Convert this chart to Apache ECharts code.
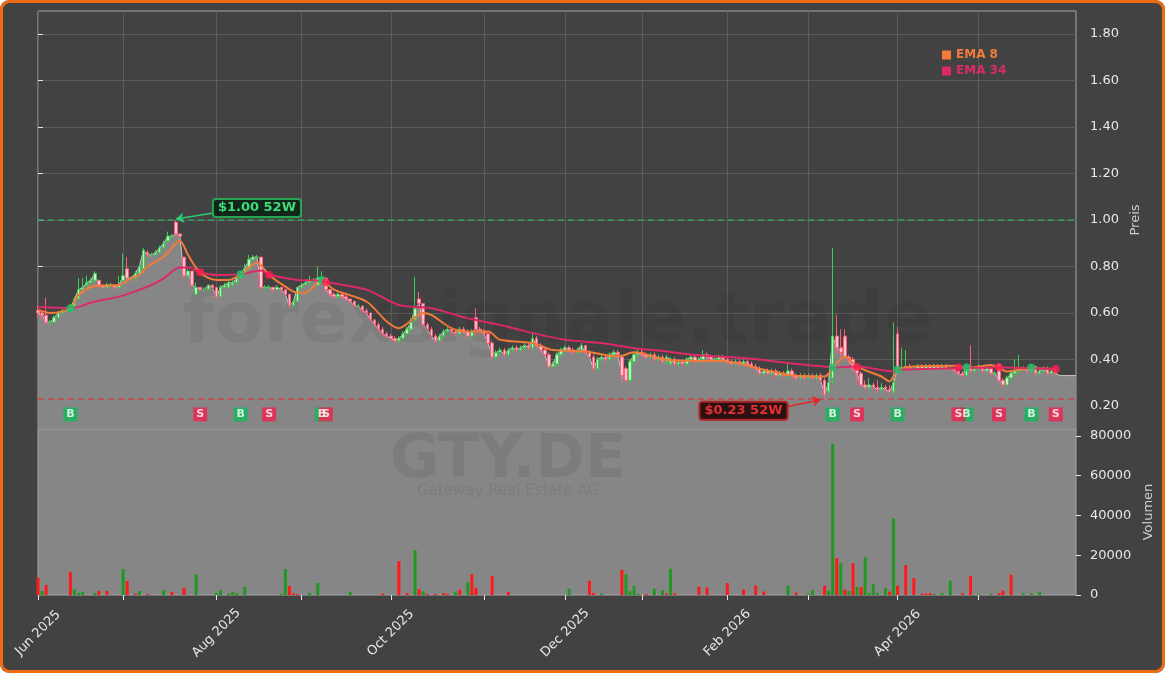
<!DOCTYPE html>
<html>
<head>
<meta charset="utf-8">
<script src="https://cdn.jsdelivr.net/npm/echarts@6.0.0/dist/echarts.min.js"></script>
<style>
html, body { margin: 0; padding: 0; background: #ffffff; }
#chart { width: 1165px; height: 673px; border-radius: 9px; overflow: hidden; }
</style>
</head>
<body>
<div id="chart"></div>
<script>
// trading calendar (Xetra)
var startDay = '2025-06-02';
var holidays = ['2025-12-24', '2025-12-25', '2025-12-26', '2025-12-31', '2026-01-01', '2026-04-03', '2026-04-06', '2026-05-01'];
var slotCount = 257;
var monthNames = ['Jan', 'Feb', 'Mar', 'Apr', 'May', 'Jun', 'Jul', 'Aug', 'Sep', 'Oct', 'Nov', 'Dec'];

// daily candles: [open, close, low, high]
var candles = [
    [0.61,0.60,0.58,0.63],[0.60,0.59,0.57,0.61],[0.59,0.56,0.55,0.665],[0.56,0.56,0.55,0.57],[0.56,0.58,0.56,0.59],
    [0.58,0.60,0.58,0.61],[0.60,0.61,0.60,0.62],[0.61,0.61,0.60,0.62],[0.61,0.62,0.61,0.64],[0.63,0.66,0.63,0.67],
    [0.66,0.70,0.66,0.75],[0.70,0.71,0.70,0.75],[0.72,0.73,0.71,0.76],[0.73,0.74,0.72,0.75],[0.74,0.77,0.73,0.78],
    [0.74,0.72,0.71,0.74],[0.72,0.71,0.70,0.72],[0.71,0.72,0.70,0.73],[0.72,0.72,0.71,0.73],[0.72,0.71,0.70,0.72],
    [0.71,0.72,0.70,0.76],[0.74,0.76,0.73,0.855],[0.79,0.75,0.74,0.84],[0.75,0.75,0.74,0.76],[0.75,0.77,0.74,0.78],
    [0.77,0.80,0.77,0.81],[0.79,0.87,0.78,0.88],[0.86,0.85,0.84,0.87],[0.85,0.85,0.84,0.86],[0.85,0.86,0.85,0.87],
    [0.86,0.88,0.86,0.89],[0.88,0.90,0.88,0.91],[0.91,0.93,0.90,0.95],[0.93,0.93,0.92,0.94],[0.99,0.94,0.93,1.00],
    [0.94,0.93,0.92,0.94],[0.84,0.76,0.75,0.84],[0.76,0.78,0.75,0.79],[0.78,0.72,0.71,0.78],[0.68,0.71,0.68,0.73],
    [0.71,0.70,0.69,0.71],[0.70,0.70,0.69,0.71],[0.70,0.72,0.70,0.72],[0.72,0.71,0.70,0.72],[0.71,0.67,0.66,0.71],
    [0.67,0.71,0.67,0.72],[0.71,0.72,0.71,0.73],[0.71,0.73,0.71,0.74],[0.72,0.73,0.71,0.74],[0.73,0.75,0.72,0.76],
    [0.75,0.77,0.75,0.78],[0.77,0.79,0.77,0.81],[0.79,0.83,0.79,0.85],[0.83,0.84,0.83,0.85],[0.84,0.84,0.83,0.85],
    [0.84,0.71,0.70,0.84],[0.71,0.71,0.70,0.72],[0.71,0.71,0.70,0.72],[0.71,0.70,0.69,0.71],[0.70,0.71,0.70,0.72],
    [0.71,0.70,0.69,0.71],[0.70,0.68,0.67,0.70],[0.68,0.63,0.62,0.68],[0.63,0.65,0.62,0.66],[0.65,0.71,0.65,0.71],
    [0.71,0.72,0.71,0.73],[0.72,0.73,0.72,0.74],[0.73,0.74,0.72,0.76],[0.74,0.74,0.73,0.75],[0.72,0.75,0.72,0.80],
    [0.74,0.75,0.73,0.78],[0.75,0.70,0.69,0.75],[0.70,0.68,0.67,0.70],[0.68,0.67,0.66,0.69],[0.67,0.68,0.66,0.69],
    [0.68,0.67,0.66,0.68],[0.67,0.66,0.65,0.68],[0.66,0.65,0.64,0.66],[0.65,0.63,0.62,0.65],[0.63,0.63,0.62,0.64],
    [0.63,0.61,0.60,0.63],[0.61,0.60,0.59,0.62],[0.60,0.57,0.56,0.60],[0.57,0.55,0.54,0.57],[0.55,0.53,0.52,0.56],
    [0.53,0.51,0.50,0.54],[0.51,0.50,0.49,0.52],[0.50,0.49,0.48,0.51],[0.49,0.48,0.47,0.50],[0.48,0.49,0.47,0.50],
    [0.49,0.51,0.48,0.52],[0.51,0.53,0.50,0.54],[0.53,0.56,0.52,0.58],[0.57,0.62,0.56,0.755],[0.66,0.64,0.58,0.69],
    [0.64,0.55,0.54,0.64],[0.55,0.53,0.52,0.56],[0.53,0.50,0.49,0.54],[0.50,0.48,0.47,0.51],[0.48,0.50,0.48,0.51],
    [0.50,0.52,0.49,0.53],[0.52,0.53,0.51,0.54],[0.53,0.52,0.51,0.54],[0.52,0.51,0.50,0.53],[0.51,0.53,0.50,0.54],
    [0.53,0.52,0.51,0.54],[0.52,0.50,0.49,0.53],[0.50,0.52,0.49,0.53],[0.58,0.53,0.50,0.62],[0.53,0.52,0.51,0.54],
    [0.52,0.51,0.50,0.53],[0.51,0.47,0.46,0.52],[0.47,0.41,0.40,0.48],[0.41,0.43,0.40,0.44],[0.43,0.44,0.42,0.45],
    [0.44,0.42,0.41,0.45],[0.42,0.44,0.41,0.45],[0.44,0.45,0.43,0.46],[0.45,0.44,0.43,0.46],[0.44,0.45,0.43,0.46],
    [0.45,0.46,0.44,0.47],[0.46,0.45,0.44,0.47],[0.45,0.49,0.44,0.51],[0.49,0.46,0.45,0.50],[0.46,0.44,0.43,0.47],
    [0.44,0.42,0.41,0.45],[0.42,0.37,0.36,0.43],[0.37,0.38,0.36,0.39],[0.38,0.42,0.37,0.43],[0.42,0.44,0.41,0.45],
    [0.44,0.45,0.43,0.46],[0.45,0.44,0.43,0.46],[0.44,0.43,0.42,0.45],[0.43,0.44,0.42,0.45],[0.44,0.46,0.43,0.47],
    [0.46,0.43,0.42,0.46],[0.43,0.41,0.40,0.44],[0.41,0.36,0.35,0.42],[0.36,0.40,0.35,0.41],[0.40,0.41,0.39,0.42],
    [0.41,0.40,0.39,0.42],[0.40,0.42,0.39,0.43],[0.42,0.43,0.41,0.44],[0.43,0.42,0.41,0.44],[0.41,0.33,0.30,0.42],
    [0.36,0.31,0.30,0.37],[0.31,0.39,0.30,0.40],[0.39,0.42,0.38,0.43],[0.42,0.43,0.41,0.44],[0.43,0.42,0.41,0.44],
    [0.42,0.41,0.40,0.43],[0.41,0.42,0.40,0.43],[0.42,0.40,0.39,0.43],[0.40,0.41,0.39,0.42],[0.41,0.39,0.38,0.42],
    [0.39,0.41,0.38,0.42],[0.38,0.40,0.37,0.41],[0.40,0.38,0.37,0.41],[0.38,0.39,0.37,0.40],[0.39,0.38,0.37,0.40],
    [0.38,0.40,0.37,0.41],[0.40,0.41,0.39,0.42],[0.41,0.39,0.38,0.42],[0.39,0.40,0.38,0.41],[0.40,0.42,0.39,0.44],
    [0.42,0.41,0.40,0.43],[0.41,0.40,0.39,0.42],[0.40,0.40,0.39,0.41],[0.40,0.41,0.39,0.42],[0.41,0.40,0.39,0.42],
    [0.40,0.39,0.38,0.41],[0.39,0.38,0.37,0.40],[0.38,0.39,0.37,0.40],[0.39,0.38,0.37,0.40],[0.38,0.39,0.37,0.40],
    [0.39,0.38,0.37,0.40],[0.38,0.37,0.36,0.39],[0.37,0.36,0.35,0.38],[0.36,0.34,0.33,0.37],[0.34,0.35,0.33,0.36],
    [0.35,0.34,0.33,0.36],[0.34,0.35,0.33,0.36],[0.35,0.33,0.32,0.36],[0.33,0.34,0.32,0.35],[0.34,0.33,0.32,0.35],
    [0.33,0.35,0.32,0.38],[0.35,0.33,0.32,0.36],[0.33,0.32,0.31,0.34],[0.32,0.33,0.31,0.34],[0.33,0.32,0.31,0.34],
    [0.32,0.33,0.31,0.34],[0.33,0.32,0.31,0.34],[0.32,0.33,0.31,0.34],[0.33,0.31,0.30,0.34],[0.31,0.25,0.23,0.32],
    [0.26,0.30,0.25,0.33],[0.32,0.50,0.29,0.88],[0.50,0.45,0.42,0.59],[0.45,0.43,0.41,0.53],[0.50,0.41,0.39,0.53],
    [0.41,0.40,0.38,0.42],[0.40,0.36,0.35,0.41],[0.36,0.34,0.30,0.37],[0.34,0.29,0.28,0.35],[0.29,0.28,0.27,0.31],
    [0.28,0.29,0.27,0.32],[0.29,0.28,0.27,0.30],[0.28,0.27,0.26,0.31],[0.27,0.28,0.26,0.30],[0.28,0.27,0.26,0.29],
    [0.27,0.26,0.25,0.29],[0.26,0.30,0.25,0.56],[0.51,0.36,0.35,0.54],[0.36,0.36,0.35,0.45],[0.36,0.37,0.35,0.44],
    [0.37,0.36,0.35,0.38],[0.36,0.36,0.35,0.37],[0.36,0.37,0.35,0.38],[0.37,0.36,0.35,0.38],[0.36,0.37,0.35,0.38],
    [0.37,0.36,0.35,0.38],[0.36,0.37,0.35,0.38],[0.37,0.36,0.35,0.38],[0.36,0.37,0.35,0.38],[0.37,0.36,0.35,0.38],
    [0.36,0.36,0.35,0.37],[0.36,0.35,0.34,0.37],[0.35,0.34,0.33,0.36],[0.34,0.33,0.32,0.35],[0.33,0.37,0.33,0.38],
    [0.37,0.35,0.34,0.46],[0.35,0.36,0.34,0.37],[0.36,0.37,0.35,0.38],[0.37,0.35,0.34,0.37],[0.35,0.36,0.34,0.37],
    [0.36,0.34,0.33,0.37],[0.34,0.34,0.33,0.35],[0.38,0.31,0.30,0.38],[0.31,0.29,0.28,0.32],[0.29,0.32,0.29,0.33],
    [0.32,0.34,0.31,0.35],[0.34,0.35,0.33,0.40],[0.35,0.36,0.34,0.42],[0.36,0.36,0.35,0.37],[0.36,0.35,0.34,0.37],
    [0.35,0.37,0.34,0.38],[0.37,0.34,0.33,0.37],[0.34,0.35,0.33,0.36],[0.35,0.36,0.34,0.37],[0.36,0.34,0.33,0.37],
    [0.34,0.35,0.33,0.36],[0.35,0.34,0.33,0.36]
];
// price fill keeps going after the last candle
var fillTail = [0.33, 0.33, 0.33, 0.33, 0.33];

// EMA curves: [day index, value]
var ema8Points = [
    [0,0.613],[3,0.60],[8,0.62],[10,0.677],[14,0.716],[20,0.72],[23,0.749],[25,0.763],[27,0.80],[31,0.842],
    [35,0.91],[37,0.85],[40,0.773],[44,0.742],[47,0.742],[50,0.766],[54,0.816],[57,0.763],[61,0.713],[64,0.687],
    [66,0.687],[70,0.742],[73,0.70],[81,0.649],[86,0.563],[89,0.534],[95,0.60],[97,0.591],[102,0.534],[106,0.52],
    [111,0.52],[114,0.484],[122,0.47],[127,0.44],[135,0.434],[143,0.412],[147,0.43],[155,0.398],[163,0.393],
    [170,0.391],[179,0.355],[187,0.329],[194,0.326],[196,0.362],[199,0.412],[202,0.369],[208,0.326],[210,0.305],
    [212,0.355],[216,0.369],[226,0.372],[229,0.362],[235,0.376],[239,0.348],[245,0.362],[251,0.358]
];
var ema34Points = [
    [0,0.625],[8,0.62],[14,0.649],[20,0.67],[27,0.713],[31,0.749],[35,0.795],[37,0.795],[40,0.775],[44,0.763],
    [50,0.766],[55,0.782],[57,0.765],[64,0.742],[70,0.739],[71,0.733],[81,0.70],[89,0.634],[97,0.62],[106,0.577],
    [114,0.548],[122,0.513],[130,0.484],[139,0.47],[147,0.448],[155,0.434],[161,0.42],[175,0.405],[185,0.384],
    [194,0.369],[196,0.365],[202,0.369],[211,0.348],[212,0.355],[227,0.362],[237,0.365],[251,0.358]
];

// EMA cross signals
var buyIdx = [8, 50, 70, 196, 212, 229, 245];
var buyAt = [0.62, 0.766, 0.742, 0.365, 0.355, 0.365, 0.365];
var sellIdx = [40, 57, 71, 202, 227, 237, 251];
var sellAt = [0.775, 0.763, 0.732, 0.367, 0.365, 0.365, 0.358];
var signalLevel = 0.163;

// 52 week extremes
var high52 = 1.00, high52Idx = 34;
var low52 = 0.23, low52Idx = 194;

// volume: [day index, shares, direction]
var volumes = [
    [0,8700,-1],[1,2000,1],[2,5000,-1],[8,11500,-1],[9,2800,1],[10,1000,1],[11,1500,1],[14,1000,1],[15,2000,-1],
    [17,2000,-1],[21,13000,1],[22,7000,-1],[24,700,-1],[25,2000,1],[27,500,-1],[31,2500,1],[33,1500,-1],[36,3700,-1],
    [39,10500,1],[44,1000,1],[45,2500,1],[47,700,1],[48,1500,1],[49,1000,1],[51,4000,1],[60,500,1],[61,13000,1],
    [62,4500,-1],[63,800,-1],[64,500,-1],[67,1000,1],[69,6000,1],[77,1500,1],[85,700,-1],[89,17000,-1],[91,1000,-1],
    [93,22500,1],[94,3000,-1],[95,1800,1],[96,500,-1],[98,500,-1],[100,1000,-1],[101,600,-1],[103,1700,1],[104,2700,-1],
    [106,6500,1],[107,10500,-1],[108,3700,-1],[112,9500,-1],[116,1500,-1],[131,3200,1],[136,7200,-1],[137,1000,-1],
    [139,700,1],[144,12700,-1],[145,10500,1],[146,1800,1],[147,4500,1],[148,500,1],[150,500,-1],[152,3200,1],
    [154,2500,1],[155,800,-1],[156,13200,1],[157,800,-1],[163,4200,-1],[165,3800,-1],[170,6000,-1],[174,2700,-1],
    [177,4800,-1],[179,1700,-1],[185,4700,1],[187,1200,-1],[190,500,1],[191,2500,1],[194,4700,-1],[195,2200,1],
    [196,76000,1],[197,18500,-1],[198,16000,1],[199,2700,-1],[200,2000,1],[201,16000,-1],[202,4200,1],[203,4000,-1],
    [204,19000,1],[205,1000,1],[206,5500,1],[207,1000,1],[209,3500,1],[210,1700,-1],[211,38500,1],[212,4700,-1],
    [214,15000,-1],[216,8500,-1],[218,600,-1],[219,800,-1],[220,1000,-1],[221,500,1],[223,800,1],[225,7200,1],
    [228,800,-1],[230,9700,-1],[232,400,1],[235,600,1],[237,900,-1],[238,2200,-1],[240,10200,-1],[243,800,1],
    [245,800,1],[247,1700,1]
];

var colEma8 = '#f47a3a';
var colEma34 = '#dc2a68';
var colBuy = '#12b85a';
var colSell = '#f0204e';
var volUp = '#1f9a1f';
var volDown = '#ff1a1a';
var font = 'DejaVu Sans';

function buildDays() {
    var out = [];
    var d = new Date(startDay + 'T00:00:00Z');
    while (out.length < slotCount) {
        var wd = d.getUTCDay();
        var key = d.toISOString().slice(0, 10);
        if (wd !== 0 && wd !== 6 && holidays.indexOf(key) < 0) {
            out.push(key);
        }
        d.setUTCDate(d.getUTCDate() + 1);
    }
    return out;
}
var days = buildDays();

// month marks only where there is data
function isMonthStart(i) {
    if (i >= candles.length) return false;
    return i === 0 || days[i].slice(5, 7) !== days[i - 1].slice(5, 7);
}
function isLabelMonth(i) {
    return isMonthStart(i) && parseInt(days[i].slice(5, 7), 10) % 2 === 0;
}

var closeLine = candles.map(function (c) { return c[1]; }).concat(fillTail);

var volData = days.map(function () { return null; });
volumes.forEach(function (v) {
    volData[v[0]] = {value: v[1], itemStyle: {color: v[2] > 0 ? volUp : volDown}};
});

function signalSeries(name, idx, text, color) {
    return {
        name: name,
        type: 'scatter',
        xAxisIndex: 0, yAxisIndex: 0,
        symbol: 'rect',
        symbolSize: [14, 14],
        itemStyle: {color: color},
        label: {show: true, position: 'inside', formatter: text, color: '#ffffff',
            fontWeight: 'bold', fontSize: 11, fontFamily: font},
        data: idx.map(function (i) { return [i, signalLevel]; }),
        z: 6
    };
}

function dotSeries(name, idx, vals, color) {
    return {
        name: name,
        type: 'scatter',
        xAxisIndex: 0, yAxisIndex: 0,
        symbolSize: 8,
        itemStyle: {color: color},
        data: idx.map(function (i, k) { return [i, vals[k]]; }),
        z: 5
    };
}

var myChart = echarts.init(document.getElementById('chart'));
var option = {
    backgroundColor: '#424242',
    animation: false,
    textStyle: {fontFamily: font},
    legend: {
        left: 937, top: 44,
        orient: 'vertical',
        icon: 'rect',
        itemWidth: 9, itemHeight: 9, itemGap: 4,
        selectedMode: false,
        textStyle: {fontSize: 12, fontWeight: 'bold', fontFamily: font},
        data: [
            {name: 'EMA 8', textStyle: {color: colEma8}},
            {name: 'EMA 34', textStyle: {color: colEma34}}
        ]
    },
    grid: [
        {left: 38, right: 89, top: 11, height: 418, show: true,
            backgroundColor: 'transparent', borderColor: '#a6a6a6', borderWidth: 1},
        {left: 38, right: 89, top: 429, height: 166, show: true,
            backgroundColor: '#868686', borderColor: '#a6a6a6', borderWidth: 1},
        // price scale ticks 0.20 .. 1.80
        {left: 38, right: 89, top: 34, height: 372, show: false}
    ],
    xAxis: [
        {
            type: 'category', gridIndex: 0, data: days, boundaryGap: false,
            axisLine: {show: false}, axisTick: {show: false}, axisLabel: {show: false},
            splitLine: {show: true, interval: function (i) { return isMonthStart(i); },
                lineStyle: {color: '#5c5c5c', width: 1}}
        },
        {
            type: 'category', gridIndex: 1, data: days, boundaryGap: false,
            axisLine: {show: false},
            axisTick: {show: true, length: 5, interval: function (i) { return isMonthStart(i); },
                lineStyle: {color: '#e6e6e6'}},
            axisLabel: {
                show: true, interval: function (i) { return isLabelMonth(i); },
                rotate: 45, align: 'center', verticalAlign: 'middle', margin: 38,
                color: '#e6e6e6', fontSize: 13, fontFamily: font,
                formatter: function (v) {
                    return monthNames[parseInt(v.slice(5, 7), 10) - 1] + ' ' + v.slice(0, 4);
                }
            },
            splitLine: {show: false}
        },
        {type: 'value', gridIndex: 2, min: 0, max: 1, show: false}
    ],
    yAxis: [
        {
            type: 'value', gridIndex: 0, position: 'right',
            min: 0.1, max: 1.9, interval: 0.1,
            name: 'Preis', nameLocation: 'middle', nameRotate: 90, nameGap: 53,
            nameTextStyle: {color: '#cfcfcf', fontSize: 13, fontFamily: font},
            axisLine: {show: false}, axisTick: {show: false},
            axisLabel: {show: false},
            splitLine: {show: false}
        },
        {
            type: 'value', gridIndex: 1, position: 'right',
            min: 0, max: 83500, interval: 20000,
            name: 'Volumen', nameLocation: 'middle', nameRotate: 90, nameGap: 59,
            nameTextStyle: {color: '#cfcfcf', fontSize: 13, fontFamily: font},
            axisLine: {show: false},
            axisTick: {show: true, length: 5, lineStyle: {color: '#e6e6e6'}},
            axisLabel: {color: '#e8e8e8', fontSize: 13, margin: 14, showMaxLabel: false, fontFamily: font,
                formatter: function (v) { return String(v); }},
            splitLine: {show: false}
        },
        {
            type: 'value', gridIndex: 2, position: 'right',
            min: 0.2, max: 1.8, interval: 0.2,
            axisLine: {show: false},
            axisTick: {show: true, length: 5, lineStyle: {color: '#e6e6e6'}},
            axisLabel: {color: '#e8e8e8', fontSize: 13, margin: 14, fontFamily: font,
                formatter: function (v) { return v.toFixed(2); }},
            splitLine: {show: true, lineStyle: {color: '#5c5c5c', width: 1}}
        }
    ],
    series: [
        {
            name: 'Kurs',
            type: 'line',
            xAxisIndex: 0, yAxisIndex: 0,
            data: closeLine,
            showSymbol: false,
            lineStyle: {color: '#c6c6c6', width: 1},
            areaStyle: {color: '#868686', opacity: 1, origin: 'start'},
            z: 1,
            markLine: {
                silent: true, symbol: 'none',
                label: {show: false},
                data: [
                    {yAxis: high52, lineStyle: {color: '#2f9e5f', type: [6, 4], width: 1.5}},
                    {yAxis: low52, lineStyle: {color: '#c84848', type: [6, 4], width: 1.5}}
                ]
            }
        },
        {
            name: 'OHLC',
            type: 'candlestick',
            xAxisIndex: 0, yAxisIndex: 0,
            data: candles,
            barWidth: 3,
            itemStyle: {
                color: '#c2f2c2', color0: '#ffc6d0',
                borderColor: '#3ccc50', borderColor0: '#ff6080', borderWidth: 1
            },
            z: 2,
            markLine: {
                silent: true,
                symbol: ['none', 'arrow'], symbolSize: 8,
                label: {show: false},
                data: [
                    [{coord: [44, 1.032], lineStyle: {color: '#2ecc71', width: 1.5, type: 'solid'}},
                        {coord: [high52Idx, 1.004]}],
                    [{coord: [184, 0.194], lineStyle: {color: '#e02828', width: 1.5, type: 'solid'}},
                        {coord: [low52Idx - 1, 0.226]}]
                ]
            },
            markPoint: {
                silent: true,
                symbol: 'rect', symbolSize: 1,
                itemStyle: {color: 'rgba(0,0,0,0)'},
                data: [
                    {coord: [54, 1.052], label: {show: true, position: 'inside',
                        formatter: '$' + high52.toFixed(2) + ' 52W',
                        color: '#3ddc7a', fontWeight: 'bold', fontSize: 13, fontFamily: font,
                        backgroundColor: '#13261a', borderColor: '#27a552', borderWidth: 2,
                        borderRadius: 2, padding: [2, 4, 1, 4]}},
                    {coord: [174, 0.1785], label: {show: true, position: 'inside',
                        formatter: '$' + low52.toFixed(2) + ' 52W',
                        color: '#e53030', fontWeight: 'bold', fontSize: 13, fontFamily: font,
                        backgroundColor: '#2a1212', borderColor: '#b52020', borderWidth: 2,
                        borderRadius: 2, padding: [2, 4, 1, 4]}}
                ]
            }
        },
        {
            name: 'EMA 8',
            type: 'line',
            xAxisIndex: 0, yAxisIndex: 0,
            data: ema8Points,
            smooth: 0.3,
            showSymbol: false,
            itemStyle: {color: colEma8},
            lineStyle: {color: colEma8, width: 2},
            z: 3
        },
        {
            name: 'EMA 34',
            type: 'line',
            xAxisIndex: 0, yAxisIndex: 0,
            data: ema34Points,
            smooth: 0.3,
            showSymbol: false,
            itemStyle: {color: colEma34},
            lineStyle: {color: colEma34, width: 2},
            z: 3
        },
        dotSeries('buyDot', buyIdx, buyAt, '#1ec46a'),
        dotSeries('sellDot', sellIdx, sellAt, '#ff1f4f'),
        signalSeries('B', buyIdx, 'B', colBuy),
        signalSeries('S', sellIdx, 'S', colSell),
        {
            name: 'Volumen',
            type: 'bar',
            xAxisIndex: 1, yAxisIndex: 1,
            data: volData,
            barWidth: 3,
            z: 2
        }
    ],
    graphic: [
        {type: 'text', z: 50, silent: true, x: 558, y: 323,
            style: {text: 'forexsignale.trade', font: 'bold 72px "DejaVu Sans"',
                fill: 'rgba(0,0,0,0.055)', align: 'center', verticalAlign: 'middle'}},
        {type: 'text', z: 50, silent: true, x: 508, y: 461,
            style: {text: 'GTY.DE', font: 'bold 60px "DejaVu Sans"',
                fill: 'rgba(0,0,0,0.075)', align: 'center', verticalAlign: 'middle'}},
        {type: 'text', z: 50, silent: true, x: 508, y: 491,
            style: {text: 'Gateway Real Estate AG', font: '15px "DejaVu Sans"',
                fill: 'rgba(0,0,0,0.075)', align: 'center', verticalAlign: 'middle'}},
        {type: 'rect', z: 60, silent: true,
            shape: {x: 1.5, y: 1.5, width: 1162, height: 670, r: 8},
            style: {fill: 'none', stroke: '#f06a12', lineWidth: 3}}
    ]
};
myChart.setOption(option);
</script>
</body>
</html>
